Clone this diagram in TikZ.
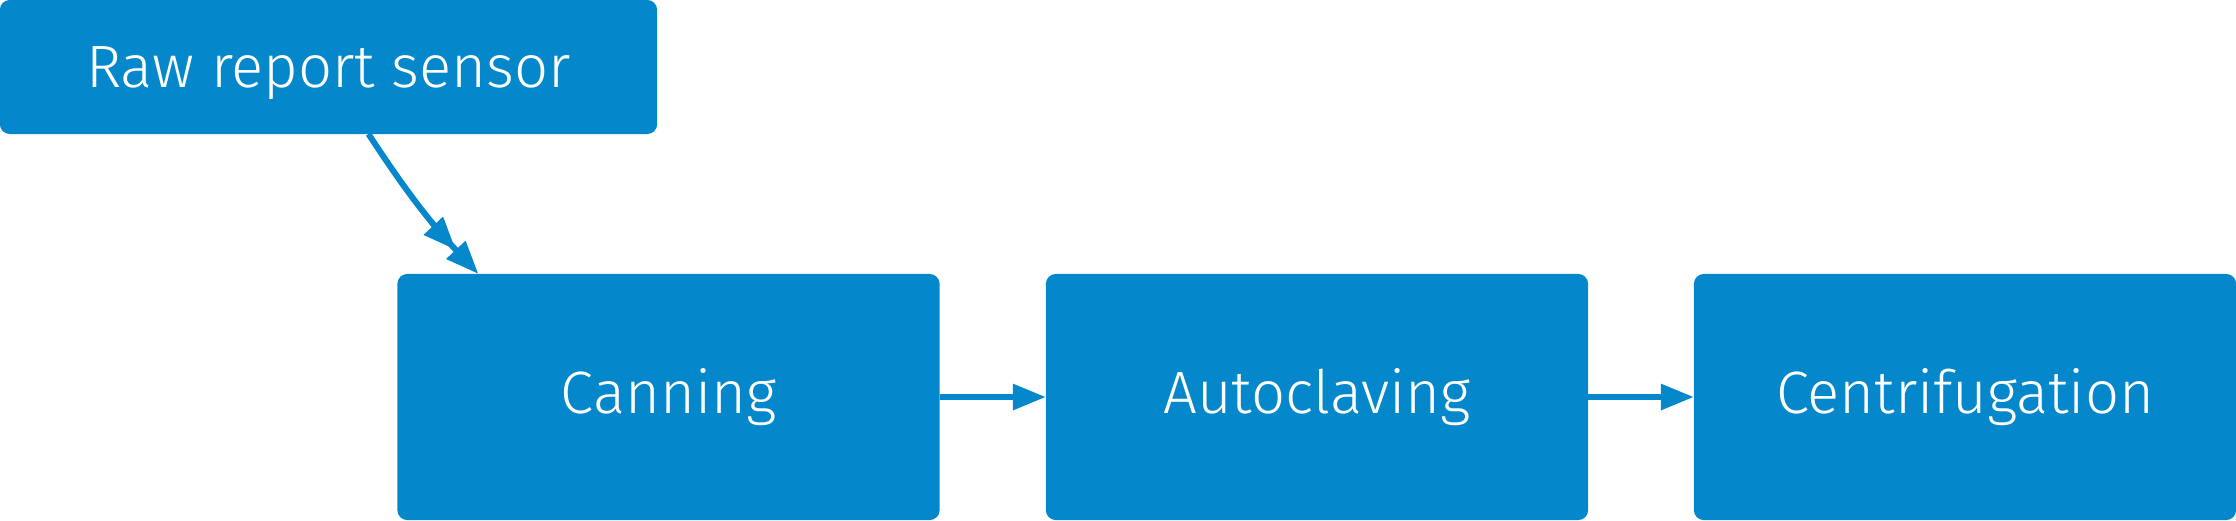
\documentclass[tikz,border=0pt]{standalone}
\usepackage{fontspec}
\setmainfont{Fira Sans Light}
\usetikzlibrary{arrows.meta}
\definecolor{stageblue}{RGB}{5,136,203}

\begin{document}
\begin{tikzpicture}[x=0.01cm, y=-0.01cm, line width=0.06cm, draw=stageblue,
    stage/.style = {fill=stageblue, text=white, rounded corners=0.1cm, inner sep=0pt, outer sep=0pt,
        minimum width=5.42cm, minimum height=2.46cm, font=\fontsize{17}{20}\selectfont},
    head/.style = {-{Triangle[length=0.33cm, width=0.25cm]}}]
    \useasboundingbox (0, 0) rectangle (2236, 520);

    \node[stage, minimum width=6.57cm, minimum height=1.34cm, text depth=0pt] (Raw) at (328.5, 67) {Raw report sensor};
    \node[stage] (Canning) at (668.5, 397) {Canning};
    \node[stage] (Autoclaving) at (1317, 397) {Autoclaving};
    \node[stage] (Centrifugation) at (1965, 397) {Centrifugation};

    \draw[-{Triangle[length=0.33cm, width=0.25cm] Triangle[length=0.33cm, width=0.25cm]}]
        ([xshift=0.4cm]Raw.south) to[bend right=5] ([xshift=-1.9cm]Canning.north);
    \draw[head] (Canning) -- (Autoclaving);
    \draw[head] (Autoclaving) -- (Centrifugation);
\end{tikzpicture}
\end{document}
